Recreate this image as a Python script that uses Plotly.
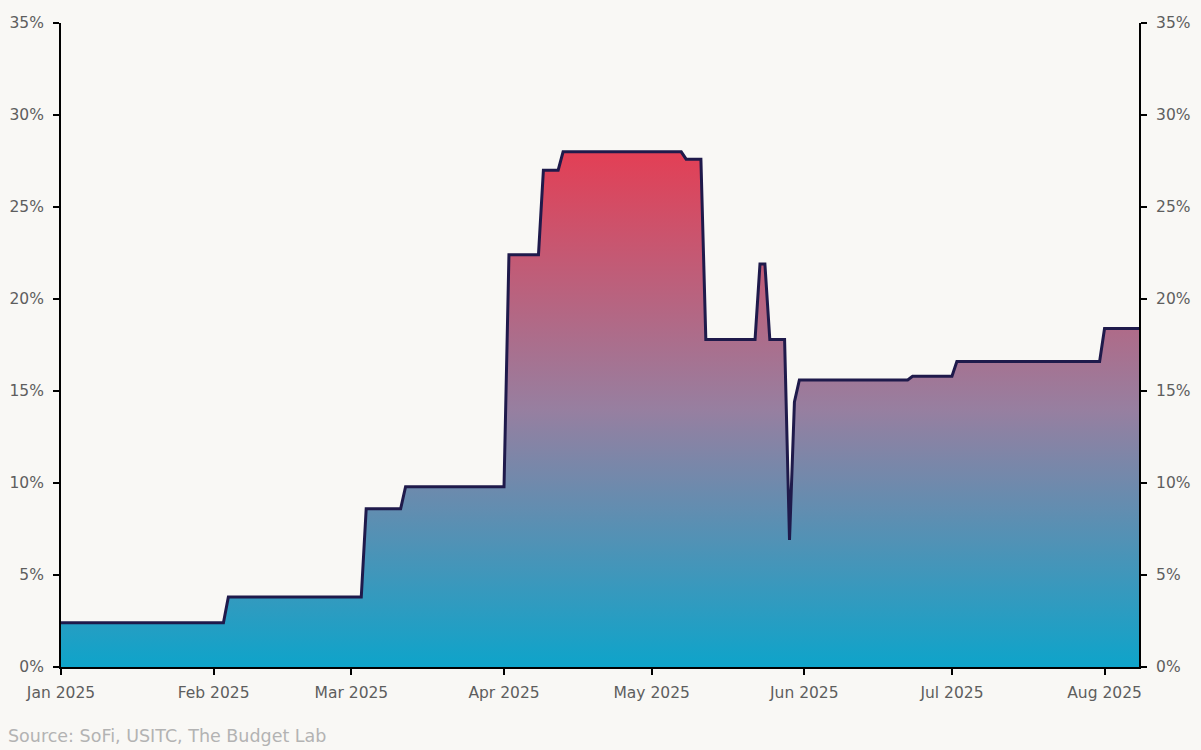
import plotly.graph_objects as go

dates = [
    "2025-01-01", "2025-02-03", "2025-02-04", "2025-03-03", "2025-03-04",
    "2025-03-11", "2025-03-12", "2025-04-01", "2025-04-02", "2025-04-08",
    "2025-04-09", "2025-04-12", "2025-04-13", "2025-05-07", "2025-05-08",
    "2025-05-11", "2025-05-12", "2025-05-22", "2025-05-23", "2025-05-24",
    "2025-05-25", "2025-05-28", "2025-05-29", "2025-05-30", "2025-05-31",
    "2025-06-22", "2025-06-23", "2025-07-01", "2025-07-02", "2025-07-31",
    "2025-08-01", "2025-08-08",
]
rates = [
    2.4, 2.4, 3.8, 3.8, 8.6,
    8.6, 9.8, 9.8, 22.4, 22.4,
    27.0, 27.0, 28.0, 28.0, 27.6,
    27.6, 17.8, 17.8, 21.9, 21.9,
    17.8, 17.8, 6.9, 14.4, 15.6,
    15.6, 15.8, 15.8, 16.6, 16.6,
    18.4, 18.4,
]
y_ticks = [0, 5, 10, 15, 20, 25, 30, 35]
y_tick_labels = ["0%", "5%", "10%", "15%", "20%", "25%", "30%", "35%"]
source_text = "Source: SoFi, USITC, The Budget Lab"

BG = "#f9f8f5"
FONT = "DejaVu Sans"
TICK_COLOR = "#5e5e5e"

W, H = 1201, 750
L, R, T, B = 61, 62, 23, 83
PW, PH = W - L - R, H - T - B

fig = go.Figure()
fig.add_trace(go.Scatter(
    x=dates, y=rates, mode="lines",
    line=dict(color="#1f1a4b", width=3),
    fill="tozeroy",
    fillgradient=dict(
        type="vertical",
        colorscale=[[0, "#0ea4ca"], [0.5, "#977fa0"], [1, "#e33f55"]],
        start=0, stop=28,
    ),
    hoverinfo="skip", showlegend=False,
))
fig.add_trace(go.Scatter(x=[dates[0]], y=[None], yaxis="y2",
                         mode="lines", showlegend=False, hoverinfo="skip"))

axis_common = dict(
    showgrid=False, zeroline=False, showline=True, linecolor="#000000",
    linewidth=2, ticks="outside", ticklen=6, tickwidth=2, tickcolor="#000000",
    tickfont=dict(family=FONT, size=15.5, color=TICK_COLOR),
    automargin=False,
)

fig.update_layout(
    width=W, height=H,
    paper_bgcolor=BG, plot_bgcolor=BG,
    margin=dict(l=L, r=R, t=T, b=B),
    font=dict(family=FONT),
    xaxis=dict(
        **axis_common,
        type="date",
        range=["2025-01-01", "2025-08-08"],
        dtick="M1", tick0="2025-01-01", tickformat="%b %Y",
        ticklabelstandoff=4,
    ),
    yaxis=dict(
        **axis_common,
        range=[0, 35], tickvals=y_ticks, ticktext=y_tick_labels,
        ticklabelstandoff=6,
    ),
    yaxis2=dict(
        **axis_common,
        overlaying="y", side="right",
        range=[0, 35], tickvals=y_ticks, ticktext=y_tick_labels,
        ticklabelstandoff=6,
    ),
    annotations=[dict(
        text=source_text, xref="paper", yref="paper",
        x=-(L - 6) / PW, y=-(736 - (T + PH)) / PH, xanchor="left", yanchor="middle",
        showarrow=False, font=dict(family=FONT, size=17.5, color="#b3b3b3"),
    )],
)

fig.write_html(
    "out.html",
    config={"displayModeBar": False},
    post_script="document.body.style.margin='0';document.body.style.overflow='hidden';",
)
